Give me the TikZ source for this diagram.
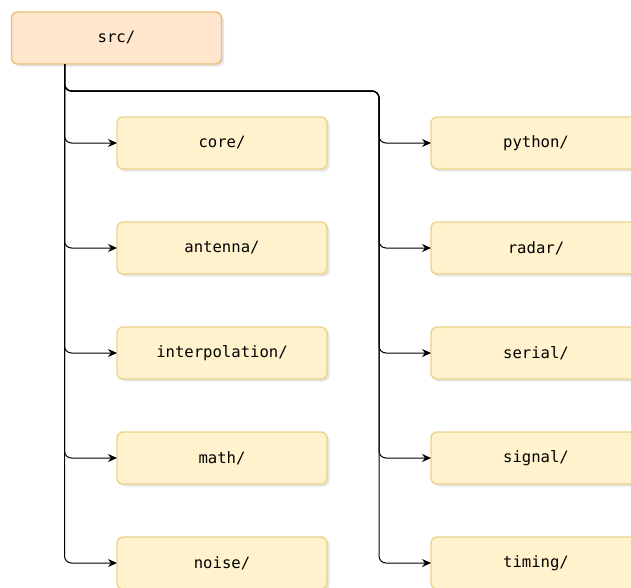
\documentclass[tikz,border=0pt]{standalone}
\usepackage{fontspec}
\setmonofont{DejaVu Sans Mono}
\usetikzlibrary{positioning, arrows.meta, shadows}
\definecolor{rootfill}{HTML}{FFE6CC}
\definecolor{rootline}{HTML}{E8BE78}
\definecolor{dirfill}{HTML}{FFF2CC}
\definecolor{dirline}{HTML}{EBD38A}
\tikzset{
    dirbox/.style={rectangle, rounded corners=6pt, minimum width=210pt, minimum height=52pt,
        inner sep=0pt, outer sep=0pt, line width=1.4pt, font=\ttfamily\fontsize{15.6}{18}\selectfont,
        drop shadow={opacity=0.2, shadow xshift=2.5pt, shadow yshift=-2.5pt}}, % shared box look
    rootdir/.style={dirbox, draw=rootline, fill=rootfill},
    subdir/.style={dirbox, draw=dirline, fill=dirfill},
    link/.style={line width=1pt, rounded corners=7pt, -{Stealth[length=9pt, width=8pt]}},
}
\begin{document}
\begin{tikzpicture}[x=1pt, y=1pt, node distance=53pt and 104pt]
    \useasboundingbox (0,0) rectangle (631,-587);
    \node[rootdir] (src) at (116.5,-38) {src/};

    % left column
    \node[subdir] (core) at (222,-143) {core/};
    \node[subdir] (antenna) [below=of core] {antenna/};
    \node[subdir] (interpolation) [below=of antenna] {interpolation/};
    \node[subdir] (math) [below=of interpolation] {math/};
    \node[subdir] (noise) [below=of math] {noise/};

    % right column
    \node[subdir] (python) [right=of core] {python/};
    \node[subdir] (radar) [right=of antenna] {radar/};
    \node[subdir] (serial) [right=of interpolation] {serial/};
    \node[subdir] (signal) [right=of math] {signal/};
    \node[subdir] (timing) [right=of noise] {timing/};

    \coordinate (trunk) at ([xshift=-52pt]src.south);
    \coordinate (split) at ([xshift=-52pt]python.west |- 0,-91);

    \foreach \d in {core, antenna, interpolation, math, noise}
        \draw[link] (trunk) |- (\d.west);
    \foreach \d in {python, radar, serial, signal, timing}
        \draw[link] (trunk) |- (split) |- (\d.west);
\end{tikzpicture}
\end{document}
